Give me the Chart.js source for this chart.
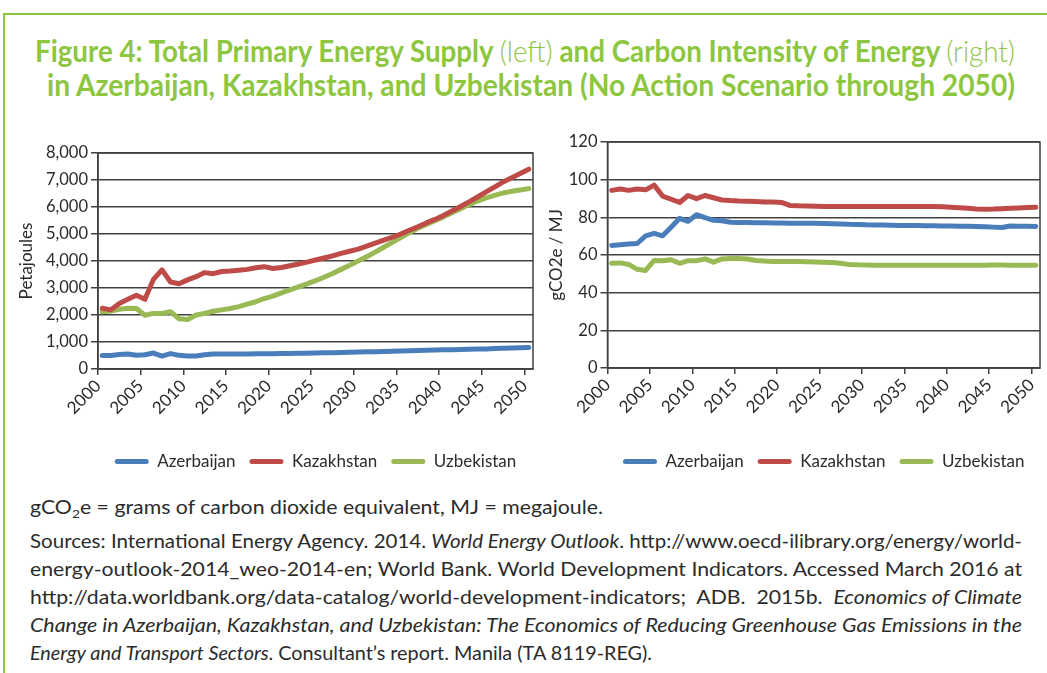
<!DOCTYPE html>
<html>
<head>
<meta charset="utf-8">
<script src="https://cdn.jsdelivr.net/npm/chart.js@4.4.0/dist/chart.umd.min.js"></script>
<style>
html,body{margin:0;padding:0;background:#fff;}
body{width:1047px;height:673px;position:relative;overflow:hidden;font-family:Lato,"Open Sans",sans-serif;}
#frame{position:absolute;left:3px;top:13px;width:1100px;height:700px;border-left:2px solid #8DC63F;border-top:2px solid #8DC63F;box-sizing:border-box;}
.fit{position:absolute;white-space:nowrap;transform-origin:0 0;}
.title{color:#8DC63F;font-weight:700;font-size:30px;line-height:30px;}
.title .lt{font-weight:300;}
.note{color:#2b2b2b;font-size:19px;line-height:19px;}
.note sub{font-size:0.65em;vertical-align:-0.3em;line-height:0;}
canvas{position:absolute;}
</style>
</head>
<body>
<div id="frame"></div>
<div class="fit title" style="left:35px;top:35px" data-w="980">Figure 4: Total Primary Energy Supply <span class="lt">(left)</span> and Carbon Intensity of Energy <span class="lt">(right)</span></div>
<div class="fit title" style="left:47px;top:69px" data-w="968">in Azerbaijan, Kazakhstan, and Uzbekistan (No Action Scenario through 2050)</div>

<canvas id="left" width="545" height="360" style="left:0px;top:120px"></canvas>
<canvas id="right" width="507" height="360" style="left:540px;top:120px"></canvas>

<div class="fit note" style="left:30px;top:497px" data-w="573">gCO<sub>2</sub>e = grams of carbon dioxide equivalent, MJ = megajoule.</div>
<div class="fit note" style="left:30px;top:531px" data-w="992">Sources: International Energy Agency. 2014. <i>World Energy Outlook</i>. http://www.oecd-ilibrary.org/energy/world-</div>
<div class="fit note" style="left:30px;top:559px" data-w="992">energy-outlook-2014_weo-2014-en; World Bank. World Development Indicators. Accessed March 2016 at</div>
<div class="fit note" style="left:30px;top:587px" data-w="992">http://data.worldbank.org/data-catalog/world-development-indicators;&nbsp; ADB.&nbsp; 2015b.&nbsp; <i>Economics of Climate</i></div>
<div class="fit note" style="left:30px;top:615px" data-w="992"><i>Change in Azerbaijan, Kazakhstan, and Uzbekistan: The Economics of Reducing Greenhouse Gas Emissions in the</i></div>
<div class="fit note" style="left:30px;top:643px" data-w="622"><i>Energy and Transport Sectors</i>. Consultant’s report. Manila (TA 8119-REG).</div>

<script>
// ---------- DATA ----------
const years = [2000,2001,2002,2003,2004,2005,2006,2007,2008,2009,
  2010,2011,2012,2013,2014,2015,2016,2017,2018,2019,
  2020,2021,2022,2023,2024,2025,2026,2027,2028,2029,
  2030,2031,2032,2033,2034,2035,2036,2037,2038,2039,
  2040,2041,2042,2043,2044,2045,2046,2047,2048,2049,2050];
const xTickLabels = [2000,2005,2010,2015,2020,2025,2030,2035,2040,2045,2050];
const seriesNames = ["Azerbaijan","Kazakhstan","Uzbekistan"];

// Total primary energy supply, petajoules
const tpesAzerbaijan = [500,500,540,555,510,530,590,480,570,505,
  480,480,530,555,555,555,558,560,562,565,
  568,572,576,580,585,590,598,605,612,620,
  628,635,642,650,657,665,674,683,692,701,
  710,717,724,731,738,745,756,767,778,789,800];
const tpesKazakhstan = [2250,2190,2430,2580,2730,2580,3320,3670,3220,3160,
  3300,3420,3570,3530,3610,3630,3660,3690,3750,3790,
  3720,3760,3825,3890,3960,4035,4110,4190,4280,4360,
  4440,4550,4660,4770,4880,5000,5140,5270,5410,5540,
  5685,5850,6020,6190,6370,6560,6740,6930,7080,7240,7400];
const tpesUzbekistan = [2120,2150,2210,2250,2240,1990,2060,2060,2120,1860,
  1830,2000,2060,2140,2190,2240,2310,2400,2490,2610,
  2700,2820,2930,3040,3150,3270,3400,3540,3690,3840,
  4000,4160,4330,4510,4690,4870,5050,5210,5350,5490,
  5635,5790,5940,6090,6220,6340,6430,6520,6580,6630,6680];

// Carbon intensity of energy, gCO2e / MJ
const ciAzerbaijan = [65.1,65.4,65.8,66.1,70.2,71.5,70.2,74.7,79.5,77.9,
  81.4,79.8,78.4,78.2,77.4,77.3,77.2,77.1,77.1,77.0,
  77.0,76.9,76.9,76.8,76.8,76.7,76.6,76.5,76.3,76.2,
  76.0,75.9,75.9,75.8,75.7,75.6,75.6,75.5,75.5,75.4,
  75.4,75.3,75.2,75.1,75.0,74.8,74.6,75.4,75.3,75.2,75.1];
const ciKazakhstan = [94.3,95.0,94.3,95.0,94.6,97.1,91.3,89.6,87.9,91.6,
  89.9,91.6,90.4,89.2,88.9,88.7,88.6,88.4,88.2,88.1,
  87.9,86.3,86.1,86.0,85.9,85.8,85.7,85.7,85.7,85.7,
  85.7,85.7,85.7,85.7,85.7,85.7,85.7,85.7,85.7,85.6,
  85.4,85.1,84.8,84.4,84.3,84.4,84.6,84.8,85.0,85.2,85.3];
const ciUzbekistan = [55.6,55.8,55.0,52.4,51.8,57.1,57.0,57.5,55.6,57.0,
  57.0,57.9,56.2,57.9,58.1,58.1,57.9,57.1,56.8,56.6,
  56.6,56.6,56.5,56.4,56.3,56.2,56.0,55.6,55.0,54.8,
  54.7,54.6,54.5,54.5,54.5,54.5,54.5,54.5,54.5,54.5,
  54.5,54.5,54.5,54.5,54.6,54.7,54.7,54.6,54.5,54.5,54.5];

// ---------- TEXT FITTING ----------
document.querySelectorAll('.fit').forEach(el => {
  const w = parseFloat(el.dataset.w);
  const a = el.getBoundingClientRect().width;
  el.style.transform = 'scaleX(' + (w / a) + ')';
});

// ---------- CHARTS ----------
const colors = ["#4A7EBB", "#BE4B48", "#98B954"];
const gridColor = "#404040";
const textColor = "#2b2b2b";
const FONT = "Lato, 'Open Sans', sans-serif";

const framePlugin = {
  id: 'frame',
  beforeDatasetsDraw(chart) {
    const a = chart.chartArea, ctx = chart.ctx;
    ctx.save();
    ctx.strokeStyle = gridColor;
    ctx.lineWidth = 1.5;
    ctx.strokeRect(a.left, a.top, a.right - a.left, a.bottom - a.top);
    ctx.restore();
  }
};

function makeChart(id, valueSets, yMin, yMax, yStep, yTitle, pad, yWidth, titlePad, xHeight, fmt) {
  const datasets = valueSets.map((vals, k) => ({
    label: seriesNames[k],
    data: years.map((yr, i) => ({x: yr + 0.5, y: vals[i]})),
    borderColor: colors[k],
    backgroundColor: colors[k],
    borderWidth: 5,
    pointRadius: 0,
    tension: 0,
    borderCapStyle: 'round',
    borderJoinStyle: 'round'
  }));
  return new Chart(document.getElementById(id), {
    type: 'line',
    data: {datasets},
    options: {
      animation: false,
      responsive: false,
      devicePixelRatio: 1,
      layout: {padding: pad},
      plugins: {
        tooltip: {enabled: false},
        legend: {
          position: 'bottom',
          fullSize: false,
          labels: {
            boxWidth: 34, boxHeight: 5, useBorderRadius: true, borderRadius: 2.5,
            color: textColor, padding: 14,
            font: {family: FONT, size: 17},
            generateLabels: (c) => Chart.defaults.plugins.legend.labels.generateLabels(c).map(l => Object.assign(l, {lineWidth: 0}))
          }
        }
      },
      scales: {
        x: {
          type: 'linear', min: 2000, max: 2051,
          afterBuildTicks: (s) => { s.ticks = xTickLabels.map(v => ({value: v})); },
          afterFit: (s) => { s.height = xHeight; },
          ticks: {autoSkip: false, maxRotation: 45, minRotation: 45, color: textColor, padding: 1,
                  font: {family: FONT, size: 17}, callback: (v) => String(v)},
          grid: {drawOnChartArea: false, drawTicks: true, tickLength: 6, color: gridColor, lineWidth: 1.5},
          border: {display: true, color: gridColor, width: 1.5}
        },
        y: {
          min: yMin, max: yMax,
          ticks: {stepSize: yStep, autoSkip: false, color: textColor, padding: 3, font: {family: FONT, size: 16.5},
                  callback: fmt},
          grid: {color: gridColor, lineWidth: 1.5, tickLength: 7},
          border: {display: true, color: gridColor, width: 1.5},
          title: {display: true, text: yTitle, color: textColor, font: {family: FONT, size: 17},
                  padding: {top: titlePad, bottom: 0}},
          afterFit: (s) => { s.width = yWidth; }
        }
      }
    },
    plugins: [framePlugin]
  });
}

makeChart('left', [tpesAzerbaijan, tpesKazakhstan, tpesUzbekistan], 0, 8000, 1000, 'Petajoules',
  {left: 10, right: 12, top: 33, bottom: 0}, 88, 6.8, 70, (v) => v.toLocaleString('en-US'));
makeChart('right', [ciAzerbaijan, ciKazakhstan, ciUzbekistan], 0, 120, 20, 'gCO2e / MJ',
  {left: 5, right: 3, top: 22, bottom: 0}, 62.5, 0.9, 71, (v) => String(v));
</script>
</body>
</html>
